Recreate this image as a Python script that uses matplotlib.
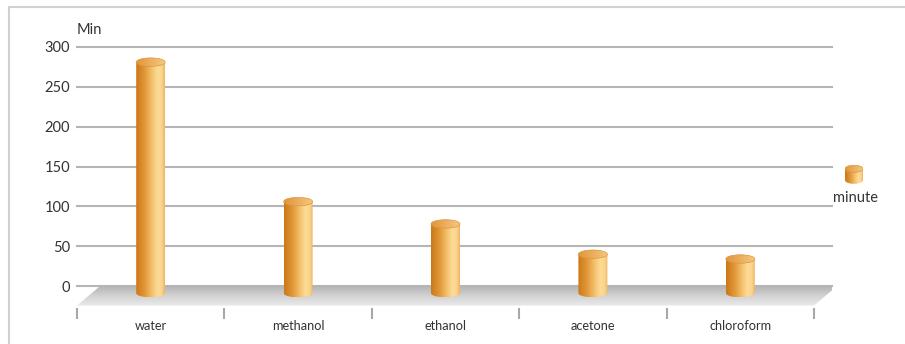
import numpy as np
import matplotlib
matplotlib.use("Agg")
import matplotlib.pyplot as plt
from matplotlib.path import Path
from matplotlib.patches import PathPatch, Polygon, Ellipse
from matplotlib.colors import LinearSegmentedColormap
from matplotlib.lines import Line2D

plt.rcParams['font.family'] = ['Lato', 'DejaVu Sans']

categories = ["water", "methanol", "ethanol", "acetone", "chloroform"]
minutes = [281, 106, 78, 40, 34]
y_ticks = [0, 50, 100, 150, 200, 250, 300]
series_name = "minute"
y_title = "Min"

W, H = 905, 344
fig = plt.figure(figsize=(W / 100, H / 100), dpi=100)
fig.patch.set_facecolor('white')

# axes: x from 77px to 832px, categories on front plane 77..814; y: 300 at 47px, 0 at 286px
px_per_unit = 0.8
bottom_px = 316
ymin = -(bottom_px - 286) / px_per_unit
cat_px = (814 - 77) / len(categories)
xmax_extra = (832 - 814) / cat_px
ax = fig.add_axes([77 / W, 1 - bottom_px / H, (832 - 77) / W, (bottom_px - 47) / H])
XL = (-0.5, len(categories) - 0.5 + xmax_extra)
ax.set_xlim(*XL)
ax.set_ylim(ymin, 300)
for s in ax.spines.values():
    s.set_visible(False)
ax.patch.set_visible(False)

# gridlines (back wall)
for yv in y_ticks:
    ax.axhline(yv, color='#B5B5B5', lw=1.5, clip_on=False, zorder=1)

ax.set_yticks(y_ticks)
ax.set_yticklabels([str(v) for v in y_ticks], fontsize=10.5, color='#333333')
ax.tick_params(axis='y', length=0, pad=5)
ax.set_xticks(range(len(categories)))
ax.set_xticklabels(categories, fontsize=9.2, color='#333333')
ax.tick_params(axis='x', length=0, pad=3)

# floor (gradient parallelogram)
depth_x = 23 / cat_px
front_y = -19.5 / px_per_unit
x0, x1 = -0.5, len(categories) - 0.5
floor_pts = [(x0, front_y), (x1, front_y), (x1 + depth_x, 0), (x0 + depth_x, 0)]
floor_poly = Polygon(floor_pts, closed=True, transform=ax.transData, facecolor='none', edgecolor='none')
ax.add_patch(floor_poly)
floor_cmap = LinearSegmentedColormap.from_list('floor', ['#EAEAEA', '#D3D3D3', '#B4B4B4'])
grad = np.linspace(0, 1, 64).reshape(-1, 1)
im = ax.imshow(grad, cmap=floor_cmap, origin='lower', aspect='auto',
               extent=[x0, x1 + depth_x, front_y, 0], zorder=2, interpolation='bilinear')
im.set_clip_path(floor_poly)

# category separator ticks below floor
ax.vlines(np.arange(len(categories) + 1) - 0.5, -27.5, -41.25, color='#A8A8A8', lw=1.5,
          clip_on=False, zorder=2)

body_cmap = LinearSegmentedColormap.from_list('body', [
    (0.0, '#CB7818'), (0.3, '#E29838'), (0.55, '#F3C06C'),
    (0.75, '#FDDC97'), (0.9, '#F9D38A'), (1.0, '#EDB562')])
top_cmap = LinearSegmentedColormap.from_list('top', [
    (0.0, '#E0963A'), (0.5, '#EBAE5E'), (1.0, '#F5C87E')])
hgrad = np.linspace(0, 1, 128).reshape(1, -1)


def draw_cylinder(a, xc, base, top, w, h, zorder=5):
    t = np.linspace(0, np.pi, 60)
    arc_x = xc - (w / 2) * np.cos(t)
    arc_y = base - (h / 2) * np.sin(t)
    verts = [(xc - w / 2, top)] + list(zip(arc_x, arc_y)) + [(xc + w / 2, top), (xc - w / 2, top)]
    codes = [Path.MOVETO] + [Path.LINETO] * (len(verts) - 2) + [Path.CLOSEPOLY]
    body = PathPatch(Path(verts, codes), facecolor='none', edgecolor='none', transform=a.transData)
    a.add_patch(body)
    b = a.imshow(hgrad, cmap=body_cmap, aspect='auto', interpolation='bilinear',
                 extent=[xc - w / 2, xc + w / 2, base - h / 2, top], zorder=zorder)
    b.set_clip_path(body)
    ell = Ellipse((xc, top), w, h, facecolor='none', edgecolor='none', transform=a.transData)
    a.add_patch(ell)
    tp = a.imshow(hgrad, cmap=top_cmap, aspect='auto', interpolation='bilinear',
                  extent=[xc - w / 2, xc + w / 2, top - h / 2, top + h / 2], zorder=zorder + 0.5)
    tp.set_clip_path(ell)
    a.add_patch(Ellipse((xc, top), w, h, facecolor='none', edgecolor='#DB973F', lw=0.5,
                        transform=a.transData, zorder=zorder + 0.6))


cyl_w = 29 / cat_px
cyl_h = 8.5 / px_per_unit
cyl_base = -7 / px_per_unit
for i, v in enumerate(minutes):
    draw_cylinder(ax, i, cyl_base, v, cyl_w, cyl_h)

ax.set_xlim(*XL)
ax.set_ylim(ymin, 300)

# axis title
fig.text(77 / W, 1 - 30 / H, y_title, fontsize=10.5, color='#333333', ha='left', va='center')

# legend
lax = fig.add_axes([845 / W, 1 - 184 / H, 18 / W, 19 / H])
lax.axis('off')
draw_cylinder(lax, 0, 0.2, 0.8, 1.0, 0.38)
lax.set_xlim(-0.5, 0.5)
lax.set_ylim(0, 1)
fig.text(855 / W, 1 - 198 / H, series_name, fontsize=10.5, color='#333333', ha='center', va='center')

# chart border (top and left visible)
fig.add_artist(Line2D([9 / W, 9 / W, 1], [0, 1 - 7 / H, 1 - 7 / H], transform=fig.transFigure,
                      color='#D0D0D0', lw=1.5))

fig.savefig('out.png', dpi=100, facecolor='white')
